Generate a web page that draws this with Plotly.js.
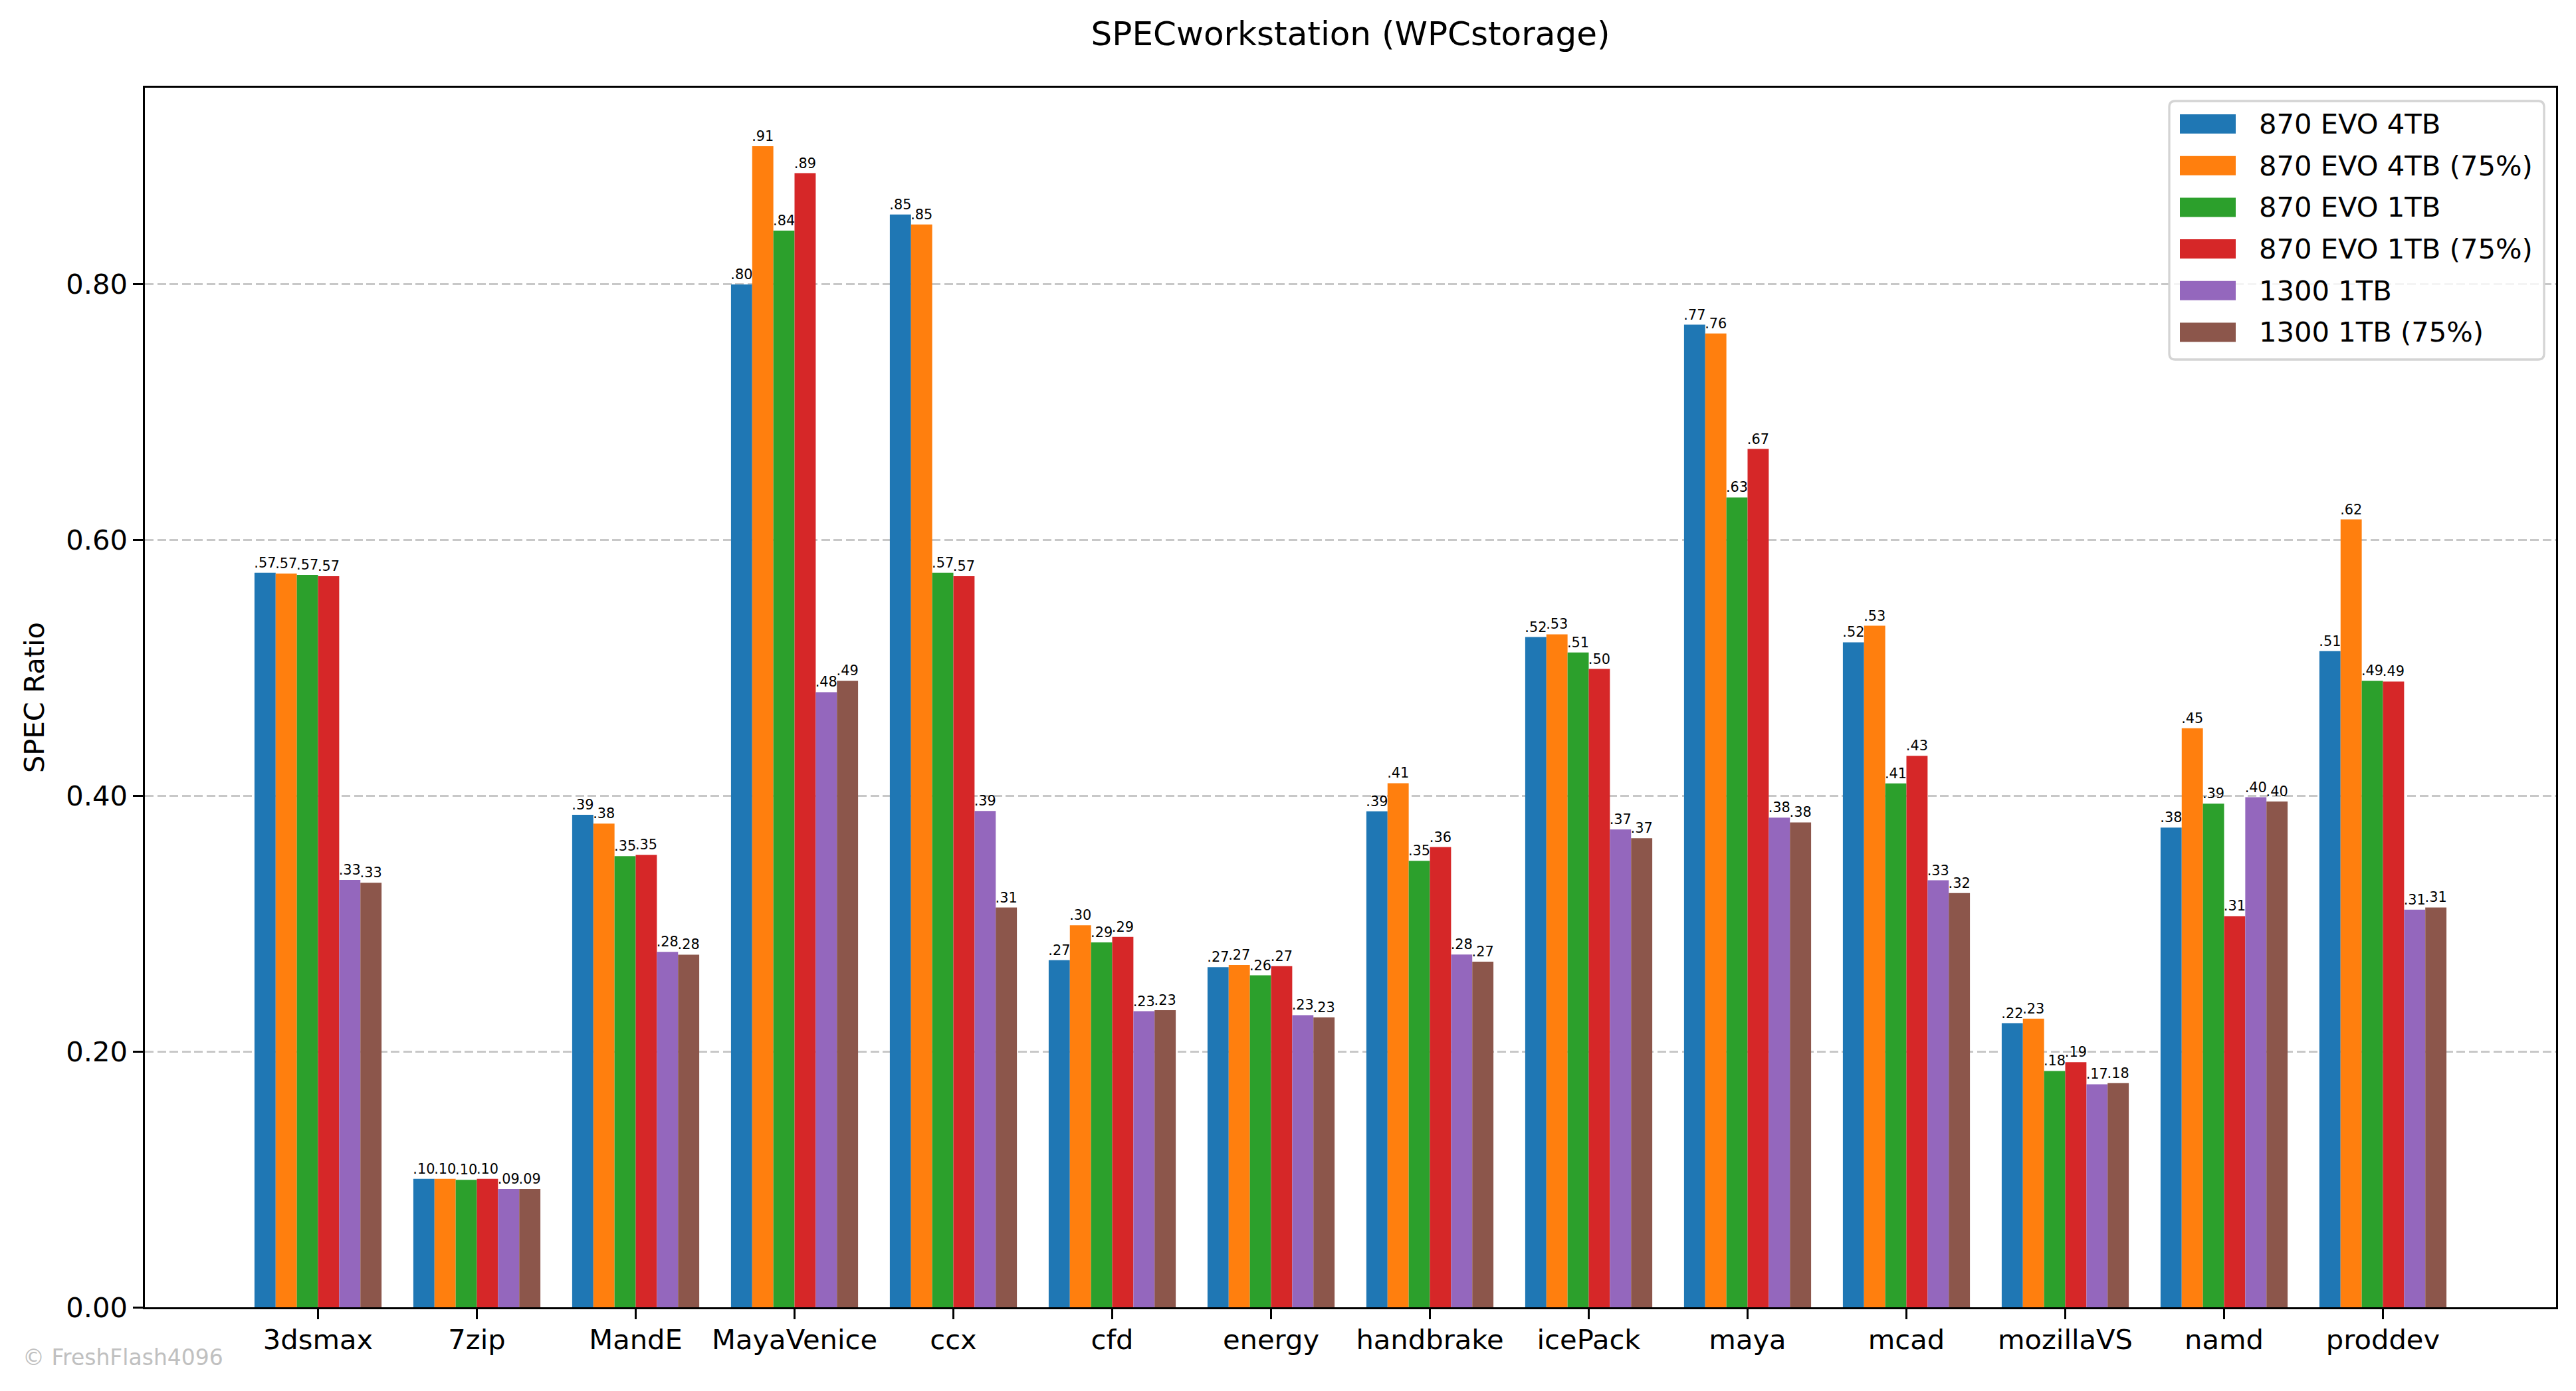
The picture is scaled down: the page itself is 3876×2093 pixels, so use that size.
<!DOCTYPE html>
<html>
<head>
<meta charset="utf-8">
<script src="https://cdn.plot.ly/plotly-3.0.1.min.js"></script>
<style>
  html, body { margin: 0; padding: 0; background: #fff; }
  #chart { width: 3876px; height: 2093px; }
</style>
</head>
<body>
<div id="chart"></div>
<script>
const CATEGORIES = ['3dsmax', '7zip', 'MandE', 'MayaVenice', 'ccx', 'cfd', 'energy', 'handbrake', 'icePack', 'maya', 'mcad', 'mozillaVS', 'namd', 'proddev']
const SERIES_NAMES = ['870 EVO 4TB', '870 EVO 4TB (75%)', '870 EVO 1TB', '870 EVO 1TB (75%)', '1300 1TB', '1300 1TB (75%)']
const SERIES_COLORS = ['#1f77b4', '#ff7f0e', '#2ca02c', '#d62728', '#9467bd', '#8c564b']

// SPEC ratios
const evo4tb = [0.5745, 0.1005, 0.3852, 0.800, 0.8547, 0.2715, 0.2660, 0.3879, 0.5242, 0.7685, 0.5201, 0.2222, 0.3752, 0.5131]
const evo4tb75 = [0.5738, 0.1005, 0.3783, 0.908, 0.8469, 0.2988, 0.2677, 0.4099, 0.5263, 0.7616, 0.5330, 0.2257, 0.4528, 0.6162]
const evo1tb = [0.5728, 0.0997, 0.3528, 0.842, 0.5745, 0.2854, 0.2596, 0.3492, 0.5121, 0.6334, 0.4097, 0.1848, 0.3938, 0.4899]
const evo1tb75 = [0.5717, 0.1005, 0.3539, 0.887, 0.5718, 0.2897, 0.2668, 0.3599, 0.4992, 0.6713, 0.4313, 0.1917, 0.3059, 0.4894]
const wd1300 = [0.3342, 0.0925, 0.2780, 0.4811, 0.3881, 0.2315, 0.2285, 0.2759, 0.3737, 0.3830, 0.3339, 0.1744, 0.3989, 0.3110]
const wd1300_75 = [0.3320, 0.0925, 0.2758, 0.4899, 0.3126, 0.2324, 0.2268, 0.2703, 0.3668, 0.3792, 0.3239, 0.1753, 0.3955, 0.3127]

const SERIES = [evo4tb, evo4tb75, evo1tb, evo1tb75, wd1300, wd1300_75]

// figure geometry (px)
const W = 3876, H = 2093
const PL = 218, PR = 3846, PT = 132, PB = 1967
const fx = (px) => (px - PL) / (PR - PL)
const fy = (py) => (PB - py) / (PB - PT)

const FONT = 'DejaVu Sans'
const PT2PX = 300 / 72

function shortLabel(v) {
  return v.toFixed(2).replace(/^0/, '')
}

// rounded box as an svg path in paper units
function roundedBox(x0, y0, x1, y1, r) {
  let p = (x, y) => fx(x) + ',' + fy(y)
  return 'M' + p(x0 + r, y0) + ' L' + p(x1 - r, y0) + ' Q' + p(x1, y0) + ' ' + p(x1, y0 + r) +
    ' L' + p(x1, y1 - r) + ' Q' + p(x1, y1) + ' ' + p(x1 - r, y1) +
    ' L' + p(x0 + r, y1) + ' Q' + p(x0, y1) + ' ' + p(x0, y1 - r) +
    ' L' + p(x0, y0 + r) + ' Q' + p(x0, y0) + ' ' + p(x0 + r, y0) + ' Z'
}

let data = []
SERIES.forEach(function (values, i) {
  data.push({
    type: 'bar',
    name: SERIES_NAMES[i],
    x: CATEGORIES,
    y: values,
    text: values.map(shortLabel),
    textposition: 'outside',
    constraintext: 'none',
    cliponaxis: false,
    textfont: { family: FONT, size: 5 * PT2PX, color: '#000' },
    marker: { color: SERIES_COLORS[i], line: { width: 0 } },
    showlegend: false
  })
})

// legend drawn by hand so the swatches keep matplotlib's proportions
let shapes = [{
  type: 'path', xref: 'paper', yref: 'paper', layer: 'above',
  path: roundedBox(3264, 152, 3828, 541, 9),
  fillcolor: 'rgba(255,255,255,0.8)',
  line: { color: '#d4d4d4', width: 3.3 }
}]
let annotations = []
SERIES_NAMES.forEach(function (name, i) {
  let cy = 186.5 + i * 62.7
  shapes.push({
    type: 'rect', xref: 'paper', yref: 'paper', layer: 'above',
    x0: fx(3280), x1: fx(3364), y0: fy(cy - 14.5), y1: fy(cy + 14.5),
    fillcolor: SERIES_COLORS[i],
    line: { width: 0 }
  })
  annotations.push({
    xref: 'paper', yref: 'paper',
    x: fx(3397), y: fy(cy),
    xanchor: 'left', yanchor: 'middle',
    text: name, showarrow: false,
    font: { family: FONT, size: 10 * PT2PX, color: '#000' }
  })
})

annotations.push({
  xref: 'paper', yref: 'paper',
  x: fx(32), y: fy(2042),
  xanchor: 'left', yanchor: 'middle',
  text: '© FreshFlash4096', showarrow: false,
  font: { family: FONT, size: 33, color: '#c0c0c0' }
})

let layout = {
  width: W,
  height: H,
  autosize: false,
  paper_bgcolor: '#fff',
  plot_bgcolor: '#fff',
  font: { family: FONT, size: 10 * PT2PX, color: '#000' },
  title: {
    text: 'SPECworkstation (WPCstorage)',
    font: { family: FONT, size: 12 * PT2PX, color: '#000' },
    xref: 'paper', x: 0.5, xanchor: 'center',
    yref: 'container', y: 1 - 50 / H, yanchor: 'middle'
  },
  barmode: 'group',
  bargap: 0.2,
  bargroupgap: 0,
  showlegend: false,
  margin: { l: PL, r: W - PR, t: PT, b: H - PB, pad: 0 },
  xaxis: {
    type: 'category',
    range: [-1.09, 14.09],
    showgrid: false,
    zeroline: false,
    showline: true,
    mirror: true,
    linecolor: '#000',
    linewidth: 3.3,
    ticks: 'outside',
    ticklen: 14.6,
    tickwidth: 3.3,
    tickcolor: '#000',
    ticklabelstandoff: -5,
    tickfont: { family: FONT, size: 10 * PT2PX, color: '#000' },
    fixedrange: true
  },
  yaxis: {
    range: [0, 0.9538],
    dtick: 0.2,
    tick0: 0,
    tickformat: '.2f',
    showgrid: true,
    gridcolor: '#c8c8c8',
    gridwidth: 3.3,
    griddash: '13px,5.5px',
    zeroline: false,
    showline: true,
    mirror: true,
    linecolor: '#000',
    linewidth: 3.3,
    ticks: 'outside',
    ticklen: 14.6,
    tickwidth: 3.3,
    tickcolor: '#000',
    tickfont: { family: FONT, size: 10 * PT2PX, color: '#000' },
    title: {
      text: 'SPEC Ratio',
      font: { family: FONT, size: 10 * PT2PX, color: '#000' },
      standoff: 20
    },
    fixedrange: true
  },
  shapes: shapes,
  annotations: annotations
}

let config = {
  displayModeBar: false,
  responsive: false
}

Plotly.newPlot('chart', data, layout, config)
</script>
</body>
</html>
